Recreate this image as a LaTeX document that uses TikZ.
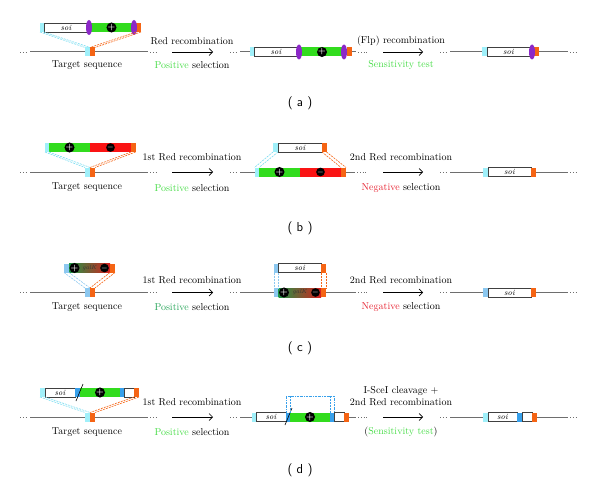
\documentclass[tikz,border=0pt]{standalone}
\usetikzlibrary{shapes.geometric,arrows.meta}
\definecolor{cyanA}{RGB}{160,240,250}
\definecolor{cyanL}{RGB}{120,220,240}
\definecolor{blueC}{RGB}{140,200,240}
\definecolor{blueD}{RGB}{55,160,235}
\definecolor{orangeA}{RGB}{245,100,20}
\definecolor{frtpurple}{RGB}{140,40,200}
\definecolor{greenA}{RGB}{50,220,30}
\definecolor{redA}{RGB}{250,20,20}
\definecolor{posgreen}{RGB}{70,220,70}
\definecolor{posgreenC}{RGB}{40,165,90}
\definecolor{neg}{RGB}{230,30,45}
\definecolor{galkgreen}{RGB}{30,150,70}
\definecolor{galkred}{RGB}{215,30,30}
\definecolor{chromgray}{RGB}{110,110,110}
\begin{document}
\begin{tikzpicture}[x=1pt, y=-1pt, font=\fontsize{10}{12}\selectfont,
  seg/.style = {rectangle, anchor=west, inner sep=0pt, outer sep=0pt, minimum height=9pt},
  soibox/.style = {seg, draw=black!75, fill=white, line width=.6pt, font=\fontsize{8}{8}\selectfont\itshape},
  galk/.style = {seg, left color=galkgreen, right color=galkred, text=black!80, font=\fontsize{6}{6}\selectfont\itshape},
  frt/.style = {ellipse, fill=frtpurple, inner sep=0pt, minimum width=6pt, minimum height=15pt},
  pm/.style = {circle, fill=black, inner sep=0pt, minimum size=7.5pt, text=white, font=\fontsize{8}{8}\selectfont\bfseries},
  chrom/.style = {draw=chromgray, line width=1pt},
  ends/.style = {draw=chromgray, line width=.8pt, dotted},
  link/.style = {dash pattern=on 2pt off 1pt, line width=.6pt},
  recarrow/.style = {-{Straight Barb[length=3.5pt,width=7pt]}, line width=.6pt},
  panel/.style = {font=\sffamily\fontsize{13}{13}\selectfont}]
\useasboundingbox (0,0) rectangle (600,487);

% ---- (a) ----
\draw[ends] (20,52) -- (28,52);
\draw[chrom] (30,52) -- (148,52);
\draw[ends] (150,52) -- (157,52);
\node[seg, fill=cyanA, minimum width=4pt] (a1c) at (40,27.5) {};
\node[soibox, minimum width=44pt] (a1s) at (44,27.5) {soi};
\node[seg, fill=greenA, minimum width=45pt] (a1g) at (89,27.5) {};
\node[seg, fill=orangeA, minimum width=5pt] (a1o) at (136,27.5) {};
\node[frt] (a1f1) at (89,27.5) {};
\node[frt] (a1f2) at (134,27.5) {};
\node[pm] (a1p) at (111.5,27.5) {+};
\node[seg, fill=cyanA, minimum width=5pt] (a1tc) at (85,52) {};
\node[seg, fill=orangeA, minimum width=5pt] (a1to) at (90,52) {};
\draw[link, cyanL] (a1c.south west) -- (a1tc.north west) (a1c.south east) -- (a1tc.north east);
\draw[link, orangeA] (a1o.south west) -- (a1to.north west) (a1o.south east) -- (a1to.north east);
\node (a1t) at (87,65) {Target sequence};

\coordinate (aArr1s) at (172,52);
\coordinate (aArr1e) at (213,52);
\draw[recarrow] (aArr1s) -- (aArr1e);
\node (a1lab) at (192,41) {Red recombination};
\node (a1sel) at (192,65) {\textcolor{posgreen}{Positive} selection};

\draw[ends] (230,52) -- (238,52);
\draw[chrom] (240,52) -- (356,52);
\draw[ends] (358,52) -- (368,52);
\node[seg, fill=cyanA, minimum width=4.5pt] (a2c) at (249.5,52) {};
\node[soibox, minimum width=44pt] (a2s) at (254,52) {soi};
\node[seg, fill=greenA, minimum width=45pt] (a2g) at (299,52) {};
\node[seg, fill=orangeA, minimum width=5pt] (a2o) at (346.5,52) {};
\node[frt] (a2f1) at (299,52) {};
\node[frt] (a2f2) at (344,52) {};
\node[pm] (a2p) at (322,52) {+};

\coordinate (aArr2s) at (383,52);
\coordinate (aArr2e) at (423,52);
\draw[recarrow] (aArr2s) -- (aArr2e);
\node (a2lab) at (401,41) {(Flp) recombination};
\node (a2sel) at (401,65) {\textcolor{posgreen}{Sensitivity test}};

\draw[ends] (440,52) -- (448,52);
\draw[chrom] (450,52) -- (568,52);
\draw[ends] (570,52) -- (578,52);
\node[seg, fill=cyanA, minimum width=5pt] (a3c) at (482,52) {};
\node[soibox, minimum width=43pt] (a3s) at (487,52) {soi};
\node[seg, fill=orangeA, minimum width=5pt] (a3o) at (534,52) {};
\node[frt] (a3f) at (532,52) {};

\node[panel] (pa) at (300,103) {( a )};

% ---- (b) ----
\draw[ends] (20,172) -- (28,172);
\draw[chrom] (30,172) -- (148,172);
\draw[ends] (150,172) -- (157,172);
\node[seg, fill=cyanA, minimum width=4pt] (b1c) at (45,147.5) {};
\node[seg, fill=greenA, minimum width=41pt] (b1g) at (49,147.5) {};
\node[seg, fill=redA, minimum width=41pt] (b1r) at (90,147.5) {};
\node[seg, fill=orangeA, minimum width=4.5pt] (b1o) at (131,147.5) {};
\node[pm] (b1p) at (69.5,147.5) {+};
\node[pm] (b1m) at (110.5,147.5) {$-$};
\node[seg, fill=cyanA, minimum width=5pt] (b1tc) at (85,172) {};
\node[seg, fill=orangeA, minimum width=5pt] (b1to) at (90,172) {};
\draw[link, cyanL] (b1c.south west) -- (b1tc.north west) (b1c.south east) -- (b1tc.north east);
\draw[link, orangeA] (b1o.south west) -- (b1to.north west) (b1o.south east) -- (b1to.north east);
\node (b1t) at (87,187) {Target sequence};

\coordinate (bArr1s) at (172,172);
\coordinate (bArr1e) at (213,172);
\draw[recarrow] (bArr1s) -- (bArr1e);
\node (b1lab) at (192,157) {1st Red recombination};
\node (b1sel) at (192,188) {\textcolor{posgreen}{Positive} selection};

\draw[ends] (230,172) -- (238,172);
\draw[chrom] (240,172) -- (355,172);
\draw[ends] (357,172) -- (368,172);
\node[seg, fill=cyanA, minimum width=5pt] (b2uc) at (273,147.5) {};
\node[soibox, minimum width=44pt] (b2us) at (278,147.5) {soi};
\node[seg, fill=orangeA, minimum width=4.5pt] (b2uo) at (322,147.5) {};
\node[seg, fill=cyanA, minimum width=4.5pt] (b2c) at (254.5,172) {};
\node[seg, fill=greenA, minimum width=41pt] (b2g) at (259,172) {};
\node[seg, fill=redA, minimum width=41pt] (b2r) at (300,172) {};
\node[seg, fill=orangeA, minimum width=5pt] (b2o) at (341,172) {};
\node[pm] (b2p) at (279.5,172) {+};
\node[pm] (b2m) at (320.5,172) {$-$};
\draw[link, cyanL] (b2uc.south west) -- (b2c.north west) (b2uc.south east) -- (b2c.north east);
\draw[link, orangeA] (b2uo.south west) -- (b2o.north west) (b2uo.south east) -- (b2o.north east);

\coordinate (bArr2s) at (383,172);
\coordinate (bArr2e) at (423,172);
\draw[recarrow] (bArr2s) -- (bArr2e);
\node (b2lab) at (401,157) {2nd Red recombination};
\node (b2sel) at (401,188) {\textcolor{neg}{Negative} selection};

\draw[ends] (440,172) -- (448,172);
\draw[chrom] (450,172) -- (568,172);
\draw[ends] (570,172) -- (578,172);
\node[seg, fill=cyanA, minimum width=5pt] (b3c) at (483,172) {};
\node[soibox, minimum width=43pt] (b3s) at (488,172) {soi};
\node[seg, fill=orangeA, minimum width=5pt] (b3o) at (531,172) {};

\node[panel] (pb) at (300,228) {( b )};

% ---- (c) ----
\draw[ends] (20,292.5) -- (28,292.5);
\draw[chrom] (30,292.5) -- (148,292.5);
\draw[ends] (150,292.5) -- (157,292.5);
\node[seg, fill=blueC, minimum width=5pt] (c1b) at (64,268) {};
\node[galk, minimum width=41pt] (c1k) at (69,268) {galK};
\node[seg, fill=orangeA, minimum width=5pt] (c1o) at (110,268) {};
\node[pm] (c1p) at (74.5,268) {+};
\node[pm] (c1m) at (104.5,268) {$-$};
\node[seg, fill=blueC, minimum width=5pt] (c1tb) at (85,292.5) {};
\node[seg, fill=orangeA, minimum width=5pt] (c1to) at (90,292.5) {};
\draw[link, blueC] (c1b.south west) -- (c1tb.north west) (c1b.south east) -- (c1tb.north east);
\draw[link, orangeA] (c1o.south west) -- (c1to.north west) (c1o.south east) -- (c1to.north east);
\node (c1t) at (87,307) {Target sequence};

\coordinate (cArr1s) at (172,292.5);
\coordinate (cArr1e) at (213,292.5);
\draw[recarrow] (cArr1s) -- (cArr1e);
\node (c1lab) at (192,280) {1st Red recombination};
\node (c1sel) at (192,307) {\textcolor{posgreenC}{Positive} selection};

\draw[ends] (230,292.5) -- (238,292.5);
\draw[chrom] (240,292.5) -- (356,292.5);
\draw[ends] (358,292.5) -- (368,292.5);
\node[seg, fill=blueC, minimum width=4.5pt] (c2ub) at (274,268) {};
\node[soibox, minimum width=42.5pt] (c2us) at (278.5,268) {soi};
\node[seg, fill=orangeA, minimum width=5pt] (c2uo) at (321,268) {};
\node[seg, fill=blueC, minimum width=4.5pt] (c2b) at (274,292.5) {};
\node[galk, minimum width=42.5pt] (c2k) at (278.5,292.5) {galK};
\node[seg, fill=orangeA, minimum width=5pt] (c2o) at (321,292.5) {};
\node[pm] (c2p) at (284,292.5) {+};
\node[pm] (c2m) at (315.5,292.5) {$-$};
\draw[link, blueC] (c2ub.south west) -- (c2b.north west) (c2ub.south east) -- (c2b.north east);
\draw[link, orangeA] (c2uo.south west) -- (c2o.north west) (c2uo.south east) -- (c2o.north east);

\coordinate (cArr2s) at (383,292.5);
\coordinate (cArr2e) at (423,292.5);
\draw[recarrow] (cArr2s) -- (cArr2e);
\node (c2lab) at (401,280) {2nd Red recombination};
\node (c2sel) at (401,307) {\textcolor{neg}{Negative} selection};

\draw[ends] (440,292.5) -- (448,292.5);
\draw[chrom] (450,292.5) -- (568,292.5);
\draw[ends] (570,292.5) -- (578,292.5);
\node[seg, fill=blueC, minimum width=5pt] (c3b) at (483,292.5) {};
\node[soibox, minimum width=43pt] (c3s) at (488,292.5) {soi};
\node[seg, fill=orangeA, minimum width=5pt] (c3o) at (531,292.5) {};

\node[panel] (pc) at (300,348) {( c )};

% ---- (d) ----
\draw[ends] (20,417) -- (28,417);
\draw[chrom] (30,417) -- (148,417);
\draw[ends] (150,417) -- (157,417);
\node[seg, fill=cyanA, minimum width=5pt] (d1c) at (40,392.5) {};
\node[soibox, minimum width=30pt] (d1s) at (45,392.5) {soi};
\node[seg, fill=blueD, minimum width=4.5pt] (d1b1) at (75,392.5) {};
\node[seg, fill=greenA, minimum width=40.5pt] (d1g) at (79.5,392.5) {};
\node[seg, fill=blueD, minimum width=4pt] (d1b2) at (120,392.5) {};
\node[soibox, minimum width=10pt] (d1w) at (124,392.5) {};
\node[seg, fill=orangeA, minimum width=5pt] (d1o) at (134,392.5) {};
\node[pm] (d1p) at (100,392.5) {+};
\draw[line width=.6pt] (76,401) -- (83,384);
\node[seg, fill=cyanA, minimum width=5pt] (d1tc) at (85,417) {};
\node[seg, fill=orangeA, minimum width=5pt] (d1to) at (90,417) {};
\draw[link, cyanL] (d1c.south west) -- (d1tc.north west) (d1c.south east) -- (d1tc.north east);
\draw[link, orangeA] (d1o.south west) -- (d1to.north west) (d1o.south east) -- (d1to.north east);
\node (d1t) at (87,432) {Target sequence};

\coordinate (dArr1s) at (172,417);
\coordinate (dArr1e) at (213,417);
\draw[recarrow] (dArr1s) -- (dArr1e);
\node (d1lab) at (192,402) {1st Red recombination};
\node (d1sel) at (192,432) {\textcolor{posgreen}{Positive} selection};

\draw[ends] (230,417) -- (238,417);
\draw[chrom] (240,417) -- (356,417);
\draw[ends] (358,417) -- (368,417);
\node[seg, fill=cyanA, minimum width=4pt] (d2c) at (252,417) {};
\node[soibox, minimum width=30pt] (d2s) at (256,417) {soi};
\node[seg, fill=blueD, minimum width=4pt] (d2b1) at (286,417) {};
\node[seg, fill=greenA, minimum width=40pt] (d2g) at (290,417) {};
\node[seg, fill=blueD, minimum width=4pt] (d2b2) at (330,417) {};
\node[soibox, minimum width=10pt] (d2w) at (334,417) {};
\node[seg, fill=orangeA, minimum width=4.5pt] (d2o) at (344,417) {};
\node[pm] (d2p) at (310,417) {+};
\draw[line width=.6pt] (285,425) -- (292,408);
\coordinate (d2top) at (310,396);
\draw[link, blueD, dash pattern=on 2pt off 1pt on .5pt off 1pt] (d2b1.north west) |- (d2top) -| (d2b2.north east);
\draw[link, blueD] (d2b1.north east) -- (d2b1.north east |- d2top);
\draw[link, blueD] (d2b2.north west) -- (d2b2.north west |- d2top);

\coordinate (dArr2s) at (383,417);
\coordinate (dArr2e) at (423,417);
\draw[recarrow] (dArr2s) -- (dArr2e);
\node[align=center] (d2lab) at (401,396.5) {I-SceI cleavage +\\2nd Red recombination};
\node (d2sel) at (401,432) {(\textcolor{posgreen}{Sensitivity test})};

\draw[ends] (440,417) -- (448,417);
\draw[chrom] (450,417) -- (568,417);
\draw[ends] (570,417) -- (578,417);
\node[seg, fill=cyanA, minimum width=5pt] (d3c) at (483,417) {};
\node[soibox, minimum width=29pt] (d3s) at (488,417) {soi};
\node[seg, fill=blueD, minimum width=5pt] (d3b) at (517,417) {};
\node[soibox, minimum width=10pt] (d3w) at (522,417) {};
\node[seg, fill=orangeA, minimum width=5pt] (d3o) at (532,417) {};

\node[panel] (pd) at (300,470) {( d )};
\end{tikzpicture}
\end{document}
